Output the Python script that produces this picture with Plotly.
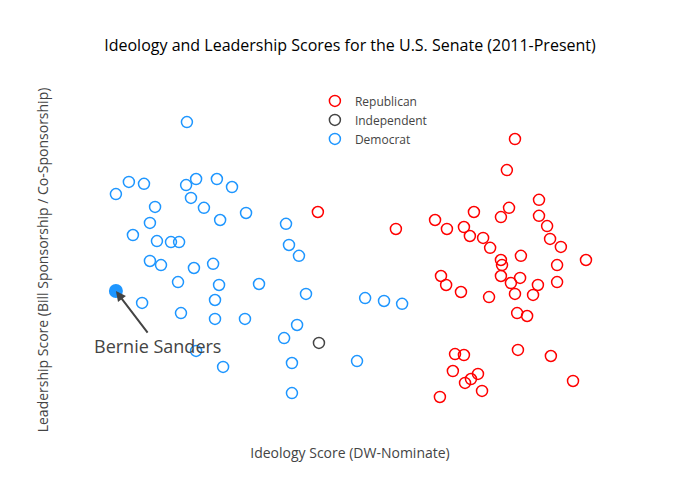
import plotly.graph_objects as go

# Democrats
dem_x = [-0.604, -0.819, -0.763, -0.867, -0.607, -0.570, -0.493, -0.437, -0.589, -0.541,
         -0.722, -0.385, -0.481, -0.741, -0.804, -0.715, -0.663, -0.633, -0.741, -0.700,
         -0.578, -0.507, -0.637, -0.485, -0.337, -0.163, 0.056, 0.126, 0.193, -0.500,
         -0.626, -0.500, -0.389, -0.196, -0.244, -0.570, -0.470, -0.215, 0.026, -0.215,
         -0.770, -0.237, -0.226, -0.189]
dem_y = [0.931, 0.744, 0.738, 0.706, 0.734, 0.753, 0.753, 0.728, 0.694, 0.663,
         0.666, 0.647, 0.625, 0.616, 0.578, 0.559, 0.556, 0.556, 0.497, 0.484,
         0.475, 0.488, 0.431, 0.422, 0.425, 0.394, 0.381, 0.372, 0.363, 0.375,
         0.334, 0.316, 0.316, 0.297, 0.256, 0.216, 0.166, 0.178, 0.184, 0.084,
         0.366, 0.613, 0.547, 0.513]

# Independents
ind_x = [-0.115]
ind_y = [0.241]

# Bernie Sanders (highlighted)
bernie_x = [-0.867]
bernie_y = [0.403]

# Republicans
rep_x = [0.611, 0.581, 0.700, 0.459, 0.589, 0.559, 0.700, 0.315, 0.359, 0.422,
         0.444, 0.493, 0.730, 0.741, 0.781, 0.519, 0.559, 0.563, 0.633, 0.874,
         0.767, 0.337, 0.559, 0.630, 0.596, 0.356, 0.696, 0.767, 0.411, 0.611,
         0.515, 0.678, 0.619, 0.656, 0.389, 0.422, 0.622, 0.744, 0.381, 0.426,
         0.448, 0.474, 0.489, 0.826, 0.333, -0.119, 0.170]
rep_y = [0.878, 0.781, 0.688, 0.650, 0.663, 0.634, 0.638, 0.625, 0.597, 0.603,
         0.575, 0.569, 0.606, 0.566, 0.541, 0.538, 0.500, 0.484, 0.513, 0.500,
         0.484, 0.450, 0.450, 0.444, 0.428, 0.422, 0.422, 0.431, 0.400, 0.394,
         0.384, 0.391, 0.334, 0.325, 0.206, 0.203, 0.219, 0.200, 0.153, 0.116,
         0.128, 0.144, 0.091, 0.122, 0.072, 0.650, 0.597]

BLUE = "#1E96FF"
RED = "#FF0000"
GRAY = "#444444"

fig = go.Figure()
fig.add_trace(go.Scatter(x=rep_x, y=rep_y, mode="markers", name="Republican",
                         marker=dict(symbol="circle-open", size=11, color=RED, line=dict(width=1.5))))
fig.add_trace(go.Scatter(x=ind_x, y=ind_y, mode="markers", name="Independent",
                         marker=dict(symbol="circle-open", size=11, color=GRAY, line=dict(width=1.5))))
fig.add_trace(go.Scatter(x=dem_x, y=dem_y, mode="markers", name="Democrat",
                         marker=dict(symbol="circle-open", size=11, color=BLUE, line=dict(width=1.5))))
fig.add_trace(go.Scatter(x=bernie_x, y=bernie_y, mode="markers", name="Bernie Sanders",
                         showlegend=False,
                         marker=dict(symbol="circle", size=14, color=BLUE)))

fig.add_annotation(x=bernie_x[0], y=bernie_y[0], text="Bernie Sanders",
                   showarrow=True, arrowhead=2, arrowsize=1, arrowwidth=2, arrowcolor="#444",
                   ax=42, ay=55, font=dict(size=18, color="#444"))

fig.update_layout(
    width=700, height=500,
    title=dict(text="Ideology and Leadership Scores for the U.S. Senate (2011-Present)",
               x=0.5, xanchor="center", y=0.91, yanchor="middle",
               font=dict(size=16, color="#000")),
    font=dict(family="Open Sans", color="#444"),
    paper_bgcolor="white", plot_bgcolor="white",
    margin=dict(l=80, r=80, t=100, b=80),
    xaxis=dict(range=[-1, 1], showgrid=False, zeroline=False, showticklabels=False,
               showline=False, ticks="", automargin=False,
               title=dict(text="Ideology Score (DW-Nominate)", font=dict(size=14), standoff=28)),
    yaxis=dict(range=[0, 1], showgrid=False, zeroline=False, showticklabels=False,
               showline=False, ticks="", automargin=False,
               title=dict(text="Leadership Score (Bill Sponsorship / Co-Sponsorship)",
                          font=dict(size=14), standoff=27)),
    legend=dict(x=0.435, y=1.0425, xanchor="left", yanchor="top", bgcolor="rgba(0,0,0,0)",
                font=dict(size=12, color="#444")),
)

fig.write_html("out.html", config={"displayModeBar": False},
               post_script="document.body.style.margin='0px';")
